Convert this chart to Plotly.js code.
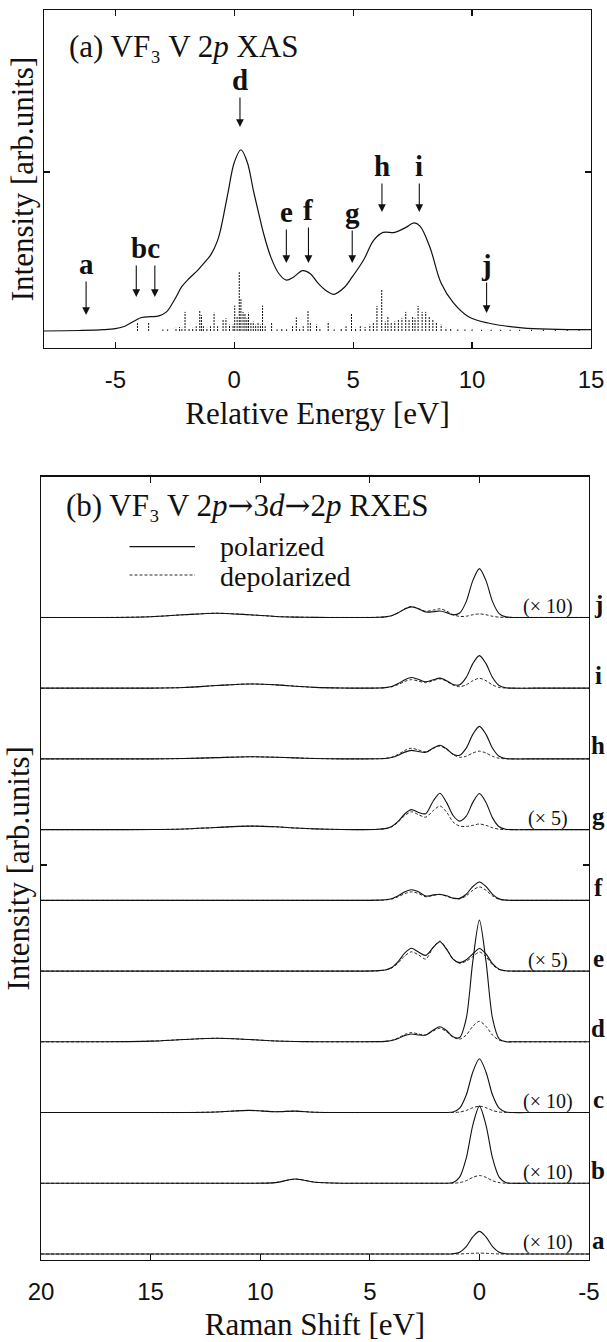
<!DOCTYPE html>
<html>
<head>
<meta charset="utf-8">
<script src="https://cdn.plot.ly/plotly-3.0.1.min.js"></script>
<style>html,body{margin:0;padding:0;background:#fff;}#chart{width:607px;height:1342px;}</style>
</head>
<body>
<div id="chart"></div>
<script>
// ---------- Panel (a): V 2p XAS ----------
const xasEnergy = [-8.0, -6.5, -5.5, -5.0, -4.6, -4.24, -3.9, -3.5, -3.17, -2.85, -2.5, -2.2, -1.9, -1.55, -1.2, -0.98, -0.7, -0.57, -0.25, 0.0, 0.28, 0.55, 0.81, 1.06, 1.22, 1.55, 1.88, 2.19, 2.5, 2.87, 3.2, 3.53, 3.9, 4.18, 4.6, 4.96, 5.45, 5.86, 6.26, 6.75, 7.2, 7.56, 7.81, 8.22, 8.7, 9.2, 9.85, 10.67, 12.1, 15.0];
const xasIntensity = [0.0, 0.003, 0.008, 0.015, 0.03, 0.06, 0.085, 0.09, 0.095, 0.12, 0.2, 0.28, 0.33, 0.38, 0.44, 0.48, 0.57, 0.64, 0.88, 1.06, 1.14, 1.06, 0.88, 0.72, 0.62, 0.46, 0.36, 0.32, 0.34, 0.38, 0.36, 0.30, 0.25, 0.23, 0.27, 0.34, 0.45, 0.57, 0.62, 0.62, 0.65, 0.68, 0.66, 0.53, 0.30, 0.18, 0.09, 0.05, 0.02, 0.008];

const stickEnergy = [-4.07, -3.6, -3.0, -2.8, -2.45, -2.3, -2.2, -2.07, -1.9, -1.75, -1.6, -1.45, -1.38, -1.3, -1.15, -1.0, -0.85, -0.7, -0.47, -0.35, -0.2, -0.05, 0.02, 0.12, 0.21, 0.28, 0.37, 0.45, 0.53, 0.6, 0.7, 0.8, 0.9, 1.0, 1.1, 1.19, 1.3, 1.57, 1.8, 2.0, 2.2, 2.45, 2.61, 2.75, 2.9, 3.1, 3.2, 3.46, 3.6, 3.95, 4.2, 4.5, 4.7, 4.93, 5.1, 5.3, 5.5, 5.7, 5.85, 6.0, 6.2, 6.35, 6.46, 6.6, 6.75, 6.9, 7.05, 7.21, 7.35, 7.5, 7.6, 7.73, 7.9, 8.05, 8.2, 8.35, 8.5, 8.7, 8.9, 9.1, 9.4, 9.7, 10.0, 10.4, 10.8, 11.2, 11.6, 12.0, 12.5, 13.0, 13.5, 14.0, 14.5];
const stickHeight = [0.05, 0.055, 0.01, 0.01, 0.02, 0.025, 0.02, 0.12, 0.015, 0.02, 0.03, 0.13, 0.10, 0.03, 0.02, 0.03, 0.115, 0.03, 0.07, 0.08, 0.04, 0.04, 0.16, 0.09, 0.37, 0.2, 0.12, 0.11, 0.08, 0.115, 0.05, 0.06, 0.04, 0.05, 0.04, 0.16, 0.03, 0.05, 0.01, 0.015, 0.01, 0.03, 0.085, 0.02, 0.03, 0.125, 0.05, 0.04, 0.02, 0.057, 0.01, 0.015, 0.03, 0.107, 0.02, 0.03, 0.025, 0.04, 0.05, 0.157, 0.26, 0.06, 0.09, 0.05, 0.06, 0.07, 0.08, 0.12, 0.07, 0.09, 0.08, 0.157, 0.12, 0.12, 0.09, 0.07, 0.05, 0.04, 0.02, 0.015, 0.01, 0.01, 0.01, 0.008, 0.008, 0.008, 0.008, 0.008, 0.008, 0.008, 0.008, 0.008, 0.008];

// excitation-energy markers (letter, energy, arrow tip height)
const markLetters = ['a', 'b', 'c', 'd', 'e', 'f', 'g', 'h', 'i', 'j'];
const markEnergy = [-6.23, -4.12, -3.34, 0.24, 2.19, 3.12, 4.96, 6.21, 7.78, 10.61];
const markTip = [0.101, 0.214, 0.214, 1.283, 0.428, 0.428, 0.428, 0.748, 0.748, 0.113];

// ---------- Panel (b): RXES spectra ----------
const ramanShift = [20, 17, 15, 13.5, 12, 10.5, 9.3, 8.4, 7.5, 6.3, 5.3, 4.6, 4.3, 4.0, 3.7, 3.4, 3.1, 2.8, 2.45, 2.1, 1.8, 1.5, 1.2, 0.9, 0.6, 0.3, 0, -0.3, -0.6, -0.9, -1.2, -1.5, -2.5, -5];

const pol_a = [0,0,0,0,0,0,0,0,0,0,0, 0,0,0,0,0, 0,0,0,0,0, 0,0.004,0.026,0.104,0.242, 0.320,0.242,0.104,0.026,0.004, 0,0,0];
const dep_a = [0,0,0,0,0,0,0,0,0,0,0, 0,0,0,0,0, 0,0,0,0,0, 0,0,0,0.005,0.010, 0.012,0.010,0.005,0,0, 0,0,0];
const pol_b = [0,0,0,0,0,0,0.009,0.060,0.015,0,0, 0,0,0,0,0, 0,0,0,0,0, 0,0.012,0.087,0.354,0.823, 1.090,0.823,0.354,0.087,0.012, 0,0,0];
const dep_b = [0,0,0,0,0,0,0.009,0.060,0.015,0,0, 0,0,0,0,0, 0,0,0,0,0, 0,0.001,0.009,0.036,0.083, 0.110,0.083,0.036,0.009,0.001, 0,0,0];
const pol_c = [0,0,0,0,0.008,0.030,0.012,0.020,0.004,0,0, 0,0,0,0,0, 0,0,0,0,0, 0,0.008,0.061,0.247,0.574, 0.760,0.574,0.247,0.061,0.008, 0,0,0];
const dep_c = [0,0,0,0,0.008,0.030,0.012,0.020,0.004,0,0, 0,0,0,0,0, 0,0,0,0,0, 0,0.001,0.007,0.029,0.068, 0.090,0.068,0.029,0.007,0.001, 0,0,0];
const pol_d = [0,0.001,0.009,0.032,0.050,0.032,0.012,0.004,0.001,0,0, 0.002,0.006,0.018,0.047,0.088, 0.111,0.097,0.095,0.168,0.212, 0.159,0.070,0.060,0.330,1.140, 1.720,1.140,0.330,0.042,0, 0,0,0];
const dep_d = [0,0.001,0.009,0.032,0.050,0.032,0.012,0.004,0.001,0,0, 0.003,0.007,0.021,0.056,0.104, 0.131,0.112,0.097,0.154,0.192, 0.143,0.065,0.038,0.096,0.219, 0.290,0.219,0.094,0.023,0.003, 0,0,0];
const pol_e = [0,0,0,0,0,0,0,0,0,0,0, 0.006,0.016,0.051,0.138,0.256, 0.322,0.274,0.222,0.337,0.415, 0.310,0.170,0.120,0.160,0.242, 0.320,0.242,0.104,0.026,0.004, 0,0,0];
const dep_e = [0,0,0,0,0,0,0,0,0,0,0, 0.005,0.014,0.043,0.116,0.216, 0.272,0.234,0.170,0.340,0.424, 0.317,0.170,0.110,0.140,0.204, 0.270,0.204,0.088,0.022,0.003, 0,0,0];
const pol_f = [0,0,0,0,0,0,0,0,0,0,0, 0.003,0.008,0.024,0.065,0.120, 0.150,0.124,0.060,0.077,0.087, 0.064,0.031,0.028,0.086,0.196, 0.260,0.196,0.085,0.021,0.003, 0,0,0];
const dep_f = [0,0,0,0,0,0,0,0,0,0,0, 0.002,0.006,0.019,0.052,0.096, 0.120,0.100,0.050,0.070,0.082, 0.060,0.028,0.021,0.063,0.143, 0.190,0.143,0.062,0.015,0.002, 0,0,0];
const pol_g = [0,0,0.001,0.008,0.031,0.050,0.040,0.023,0.010,0.002,0, 0.006,0.014,0.045,0.120,0.224, 0.283,0.246,0.225,0.409,0.514, 0.385,0.200,0.120,0.190,0.385, 0.510,0.385,0.166,0.041,0.006, 0,0,0];
const dep_g = [0,0,0.001,0.008,0.031,0.050,0.040,0.023,0.010,0.002,0, 0.005,0.013,0.040,0.108,0.200, 0.252,0.215,0.176,0.270,0.334, 0.249,0.108,0.050,0.045,0.060, 0.080,0.060,0.026,0.006,0.001, 0,0,0];
const pol_h = [0,0,0,0.005,0.018,0.030,0.024,0.014,0.006,0.001,0, 0.002,0.006,0.019,0.052,0.096, 0.121,0.104,0.093,0.153,0.192, 0.143,0.067,0.052,0.152,0.347, 0.460,0.347,0.150,0.037,0.005, 0,0,0];
const dep_h = [0,0,0,0.005,0.018,0.030,0.024,0.014,0.006,0.001,0, 0.003,0.008,0.024,0.065,0.120, 0.151,0.128,0.101,0.149,0.182, 0.136,0.060,0.023,0.038,0.083, 0.110,0.083,0.036,0.009,0.001, 0,0,0];
const pol_i = [0,0,0.001,0.009,0.037,0.060,0.047,0.028,0.011,0.002,0, 0.003,0.008,0.024,0.065,0.120, 0.151,0.126,0.090,0.119,0.142, 0.106,0.051,0.048,0.152,0.347, 0.460,0.347,0.150,0.037,0.005, 0,0,0];
const dep_i = [0,0,0.001,0.009,0.037,0.060,0.047,0.028,0.011,0.002,0, 0.002,0.006,0.019,0.052,0.096, 0.121,0.102,0.077,0.108,0.132, 0.098,0.044,0.021,0.047,0.106, 0.140,0.106,0.046,0.011,0.002, 0,0,0];
const pol_j = [0,0,0.010,0.038,0.060,0.038,0.014,0.005,0.001,0,0, 0.003,0.008,0.024,0.065,0.120, 0.150,0.124,0.077,0.081,0.092, 0.068,0.037,0.062,0.224,0.521, 0.690,0.521,0.224,0.055,0.008, 0,0,0];
const dep_j = [0,0,0.010,0.038,0.060,0.038,0.014,0.005,0.001,0,0, 0.003,0.008,0.025,0.067,0.124, 0.156,0.129,0.087,0.104,0.122, 0.091,0.040,0.014,0.017,0.038, 0.050,0.038,0.016,0.004,0.001, 0,0,0];

const spectrumLabels = ['a', 'b', 'c', 'd', 'e', 'f', 'g', 'h', 'i', 'j'];
const spectrumOffsets = [0, 1, 2, 3, 4, 5, 6, 7, 8, 9];
const spectrumScale = ['(× 10)', '(× 10)', '(× 10)', '', '(× 5)', '', '(× 5)', '', '', '(× 10)'];
const polarizedSet = [pol_a, pol_b, pol_c, pol_d, pol_e, pol_f, pol_g, pol_h, pol_i, pol_j];
const depolarizedSet = [dep_a, dep_b, dep_c, dep_d, dep_e, dep_f, dep_g, dep_h, dep_i, dep_j];

// ---------- build ----------
const SERIF = '"Liberation Serif", "Times New Roman", Times, serif';
const SANS = '"Liberation Sans", Arial, Helvetica, sans-serif';
const W = 607, H = 1342, ML = 41, MR = 16, MT = 10, MB = 82;
const PW = W - ML - MR, PH = H - MT - MB;
const px = v => (v - ML) / PW;            // pixel -> paper x
const py = v => (H - MB - v) / PH;        // pixel -> paper y

const traces = [];
traces.push({x: xasEnergy, y: xasIntensity, mode: 'lines', type: 'scatter', xaxis: 'x', yaxis: 'y', name: 'XAS',
  line: {color: '#111', width: 1.2, shape: 'spline', smoothing: 1}, hoverinfo: 'skip'});
const sx = [], sy = [];
stickEnergy.forEach((e, i) => { sx.push(e, e, null); sy.push(0, stickHeight[i], null); });
traces.push({x: sx, y: sy, mode: 'lines', type: 'scatter', xaxis: 'x', yaxis: 'y', name: 'multiplet lines',
  line: {color: '#111', width: 1, dash: '2px,1px'}, hoverinfo: 'skip'});

spectrumLabels.forEach((lab, k) => {
  traces.push({x: ramanShift, y: polarizedSet[k].map(v => v + spectrumOffsets[k]), name: 'polarized ' + lab,
    mode: 'lines', type: 'scatter', xaxis: 'x2', yaxis: 'y2',
    line: {color: '#111', width: 1.1, shape: 'spline', smoothing: 0.8}, hoverinfo: 'skip'});
  traces.push({x: ramanShift, y: depolarizedSet[k].map(v => v + spectrumOffsets[k]), name: 'depolarized ' + lab,
    mode: 'lines', type: 'scatter', xaxis: 'x2', yaxis: 'y2',
    line: {color: '#111', width: 0.9, dash: '3px,2px', shape: 'spline', smoothing: 0.8}, hoverinfo: 'skip'});
});

const titleFont = {family: SERIF, size: 31, color: '#111'};
const axisCommon = {
  showline: true, linecolor: '#111', linewidth: 1.3, mirror: 'ticks',
  ticks: 'inside', ticklen: 6, tickwidth: 1.2, tickcolor: '#111',
  showgrid: false, zeroline: false, fixedrange: true, automargin: false,
  tickfont: {family: SANS, size: 24, color: '#111'}
};

const annotations = [];
function txt(text, x, y, opts) {
  annotations.push(Object.assign({text: text, x: x, y: y, xref: 'paper', yref: 'paper', showarrow: false,
    xanchor: 'center', yanchor: 'middle', font: {family: SERIF, size: 31, color: '#111'}}, opts || {}));
}
const ARROW = '<span style="font-family:\'DejaVu Serif\'">→</span>';
txt('(a) VF₃ V 2<i>p</i> XAS', px(67), py(46), {xanchor: 'left'});
txt('(b) VF₃ V 2<i>p</i>' + ARROW + '3<i>d</i>' + ARROW + '2<i>p</i> RXES', px(64), py(505), {xanchor: 'left'});
txt('polarized', px(218), py(546), {xanchor: 'left', font: {family: SERIF, size: 28, color: '#111'}});
txt('depolarized', px(218), py(576), {xanchor: 'left', font: {family: SERIF, size: 28, color: '#111'}});

// XAS arrows with their letters (b and c share one "bc" label as in the figure)
const letterFont = {family: SERIF, size: 29, color: '#111'};
const letterPx = [264, 248, 248, 80, 212, 210, 213, 166, 166, 265];
const tipPx = [315, 297, 297, 127, 263, 263, 263, 212, 212, 313];
markLetters.forEach((l, i) => {
  const shared = (l === 'b' || l === 'c');
  annotations.push({x: markEnergy[i], y: markTip[i], xref: 'x', yref: 'y', text: shared ? '' : '<b>' + l + '</b>', showarrow: true,
    ax: 0, ay: shared ? -33 : letterPx[i] - tipPx[i], arrowhead: 2, arrowsize: 1.4, arrowwidth: 1.1, arrowcolor: '#111', standoff: 0,
    font: letterFont});
});
annotations.push({x: (markEnergy[1] + markEnergy[2]) / 2, y: markTip[1], xref: 'x', yref: 'y', yshift: 297 - 248,
  text: '<b>bc</b>', showarrow: false, xanchor: 'center', yanchor: 'middle', font: letterFont});

spectrumLabels.forEach((lab, k) => {
  annotations.push({x: px(598), y: spectrumOffsets[k], xref: 'paper', yref: 'y2', yshift: 13, text: '<b>' + lab + '</b>',
    showarrow: false, xanchor: 'center', yanchor: 'middle', font: {family: SERIF, size: 25, color: '#111'}});
  if (spectrumScale[k]) {
    annotations.push({x: px(548), y: spectrumOffsets[k], xref: 'paper', yref: 'y2', yshift: 11, text: spectrumScale[k],
      showarrow: false, xanchor: 'center', yanchor: 'middle', font: {family: SERIF, size: 20, color: '#111'}});
  }
});

const shapes = [
  {type: 'line', xref: 'paper', yref: 'paper', x0: px(129.5), x1: px(195), y0: py(546.7), y1: py(546.7), line: {color: '#111', width: 1.2}},
  {type: 'line', xref: 'paper', yref: 'paper', x0: px(129.5), x1: px(195), y0: py(575), y1: py(575), line: {color: '#111', width: 0.9, dash: '3px,2px'}}
];

const layout = {
  width: W, height: H, margin: {l: ML, r: MR, t: MT, b: MB, pad: 0},
  paper_bgcolor: '#fff', plot_bgcolor: '#fff', showlegend: false,
  xaxis: Object.assign({}, axisCommon, {domain: [px(44), 1], range: [-8, 15], anchor: 'y',
    tickvals: [-5, 0, 5, 10, 15], ticktext: ['-5', '0', '5', '10', '15'], ticklabelstandoff: 10,
    title: {text: 'Relative Energy [eV]', font: titleFont, standoff: 10}}),
  yaxis: Object.assign({}, axisCommon, {domain: [py(348), py(10)], range: [-0.107, 2.019], anchor: 'x',
    tickvals: [1], showticklabels: false,
    title: {text: 'Intensity [arb.units]', font: titleFont, standoff: 0}}),
  xaxis2: Object.assign({}, axisCommon, {domain: [0, px(589)], range: [20, -5], anchor: 'y2',
    tickvals: [20, 15, 10, 5, 0, -5], ticktext: ['20', '15', '10', '5', '0', '-5'], ticklabelstandoff: 10,
    title: {text: 'Raman Shift [eV]', font: titleFont, standoff: 10}}),
  yaxis2: Object.assign({}, axisCommon, {domain: [0, py(476.7)], range: [-0.085, 10.99], anchor: 'x2',
    tickvals: [5.5], showticklabels: false,
    title: {text: 'Intensity [arb.units]', font: titleFont, standoff: 0}}),
  annotations: annotations, shapes: shapes
};

Plotly.newPlot('chart', traces, layout, {displayModeBar: false, staticPlot: true});
</script>
</body>
</html>
